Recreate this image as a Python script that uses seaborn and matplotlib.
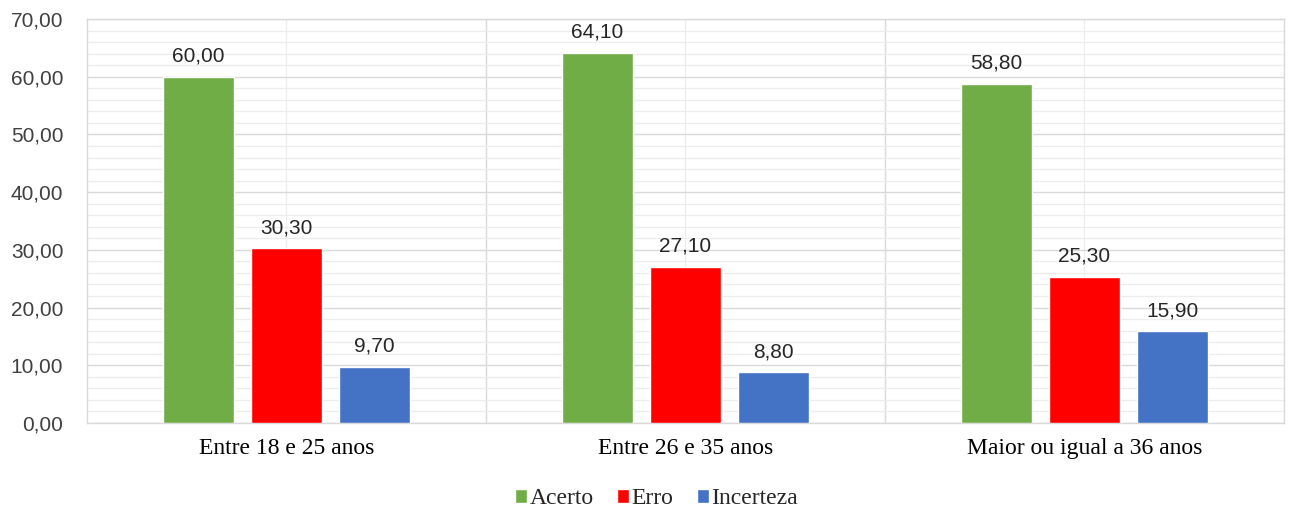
import matplotlib
matplotlib.use("Agg")
import matplotlib.pyplot as plt
from matplotlib.ticker import MultipleLocator, FixedLocator
import seaborn as sns
import pandas as pd

# Response accuracy by age group
categories = ["Entre 18 e 25 anos", "Entre 26 e 35 anos", "Maior ou igual a 36 anos"]
series = ["Acerto", "Erro", "Incerteza"]
acerto = [60.00, 64.10, 58.80]
erro = [30.30, 27.10, 25.30]
incerteza = [9.70, 8.80, 15.90]
colors = ["#70AD47", "#FF0000", "#4472C4"]
y_ticks = [0, 10, 20, 30, 40, 50, 60, 70]

rows = []
for name, vals in zip(series, [acerto, erro, incerteza]):
    for cat, v in zip(categories, vals):
        rows.append({"Faixa": cat, "Tipo": name, "Valor": v})
df = pd.DataFrame(rows)

sns.set_theme(style="white")
serif = ["Liberation Serif", "DejaVu Serif"]
sans = ["Liberation Sans", "DejaVu Sans"]

fig = plt.figure(figsize=(12.9, 5.11), dpi=100)
ax = fig.add_axes([0.0674, 0.1722, 0.9279, 0.7906])

sns.barplot(data=df, x="Faixa", y="Valor", hue="Tipo", order=categories,
            hue_order=series, palette=colors, width=0.662, gap=0.19,
            saturation=1, errorbar=None, ax=ax, zorder=3, legend=True)

ax.set_ylim(0, 70)
ax.set_xlim(-0.5, len(categories) - 0.5)

# Gridlines: major and minor on y, group boundaries and centers on x
ax.yaxis.set_major_locator(FixedLocator(y_ticks))
ax.yaxis.set_minor_locator(MultipleLocator(2))
ax.xaxis.set_minor_locator(FixedLocator([0.5, 1.5]))
ax.grid(which="major", axis="y", color="#D9D9D9", linewidth=1.0, zorder=0)
ax.grid(which="minor", axis="y", color="#EDEDED", linewidth=0.9, zorder=0)
ax.grid(which="minor", axis="x", color="#D9D9D9", linewidth=1.0, zorder=0)
ax.grid(which="major", axis="x", color="#EDEDED", linewidth=0.9, zorder=0)
ax.set_axisbelow(True)

for s in ax.spines.values():
    s.set_color("#D9D9D9")
    s.set_linewidth(1.0)

ax.set_yticks(y_ticks)
ax.set_yticklabels([f"{t:.2f}".replace(".", ",") for t in y_ticks],
                   fontfamily=sans, fontsize=15, color="#404040")
ax.set_xticklabels(categories, fontfamily=serif, fontsize=17, color="#000000")
ax.tick_params(axis="y", which="both", length=0, pad=17)
ax.tick_params(axis="x", which="both", length=0, pad=11)
ax.set_xlabel("")
ax.set_ylabel("")

for cont in ax.containers:
    labels = [f"{b.get_height():.2f}".replace(".", ",") for b in cont]
    ax.bar_label(cont, labels=labels, padding=8, fontfamily=sans,
                 fontsize=15, color="#262626")

handles, lbls = ax.get_legend_handles_labels()
ax.get_legend().remove()
fig.legend(handles, lbls, loc="center", bbox_to_anchor=(0.509, 0.024), ncol=3,
           frameon=False, prop={"family": serif, "size": 17},
           handlelength=0.5, handleheight=0.5, handletextpad=0.1,
           columnspacing=1.0)

fig.savefig("out.png", dpi=100, facecolor="white")
